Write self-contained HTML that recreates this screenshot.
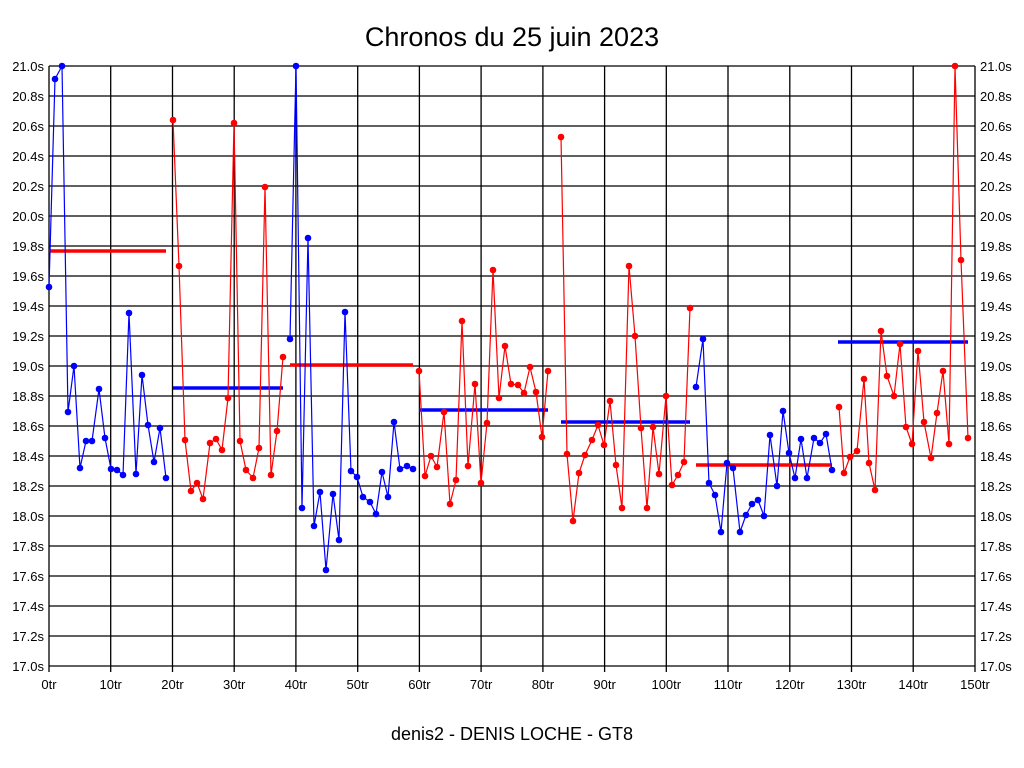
<!DOCTYPE html>
<html><head><meta charset="utf-8"><style>
body{margin:0;background:#fff}
svg{display:block;font-family:"Liberation Sans",sans-serif}
</style></head><body>
<svg width="1024" height="768" viewBox="0 0 1024 768" xmlns="http://www.w3.org/2000/svg">
<rect width="1024" height="768" fill="#fff"/>
<text x="512" y="46" font-size="27" text-anchor="middle">Chronos du 25 juin 2023</text>
<g id="grid" stroke="#000" stroke-width="1.3">
<line x1="49" y1="66" x2="975" y2="66"/><line x1="49" y1="96" x2="975" y2="96"/><line x1="49" y1="126" x2="975" y2="126"/><line x1="49" y1="156" x2="975" y2="156"/><line x1="49" y1="186" x2="975" y2="186"/><line x1="49" y1="216" x2="975" y2="216"/><line x1="49" y1="246" x2="975" y2="246"/><line x1="49" y1="276" x2="975" y2="276"/><line x1="49" y1="306" x2="975" y2="306"/><line x1="49" y1="336" x2="975" y2="336"/><line x1="49" y1="366" x2="975" y2="366"/><line x1="49" y1="396" x2="975" y2="396"/><line x1="49" y1="426" x2="975" y2="426"/><line x1="49" y1="456" x2="975" y2="456"/><line x1="49" y1="486" x2="975" y2="486"/><line x1="49" y1="516" x2="975" y2="516"/><line x1="49" y1="546" x2="975" y2="546"/><line x1="49" y1="576" x2="975" y2="576"/><line x1="49" y1="606" x2="975" y2="606"/><line x1="49" y1="636" x2="975" y2="636"/><line x1="49" y1="666" x2="975" y2="666"/>
<line x1="49" y1="66" x2="49" y2="672"/><line x1="110.7" y1="66" x2="110.7" y2="672"/><line x1="172.5" y1="66" x2="172.5" y2="672"/><line x1="234.2" y1="66" x2="234.2" y2="672"/><line x1="295.9" y1="66" x2="295.9" y2="672"/><line x1="357.7" y1="66" x2="357.7" y2="672"/><line x1="419.4" y1="66" x2="419.4" y2="672"/><line x1="481.1" y1="66" x2="481.1" y2="672"/><line x1="542.9" y1="66" x2="542.9" y2="672"/><line x1="604.6" y1="66" x2="604.6" y2="672"/><line x1="666.3" y1="66" x2="666.3" y2="672"/><line x1="728" y1="66" x2="728" y2="672"/><line x1="789.8" y1="66" x2="789.8" y2="672"/><line x1="851.5" y1="66" x2="851.5" y2="672"/><line x1="913.2" y1="66" x2="913.2" y2="672"/><line x1="975" y1="66" x2="975" y2="672"/>
</g>
<g font-size="13" text-anchor="end">
<text x="44" y="71">21.0s</text><text x="44" y="101">20.8s</text><text x="44" y="131">20.6s</text><text x="44" y="161">20.4s</text><text x="44" y="191">20.2s</text><text x="44" y="221">20.0s</text><text x="44" y="251">19.8s</text><text x="44" y="281">19.6s</text><text x="44" y="311">19.4s</text><text x="44" y="341">19.2s</text><text x="44" y="371">19.0s</text><text x="44" y="401">18.8s</text><text x="44" y="431">18.6s</text><text x="44" y="461">18.4s</text><text x="44" y="491">18.2s</text><text x="44" y="521">18.0s</text><text x="44" y="551">17.8s</text><text x="44" y="581">17.6s</text><text x="44" y="611">17.4s</text><text x="44" y="641">17.2s</text><text x="44" y="671">17.0s</text>
</g>
<g font-size="13">
<text x="980" y="71">21.0s</text><text x="980" y="101">20.8s</text><text x="980" y="131">20.6s</text><text x="980" y="161">20.4s</text><text x="980" y="191">20.2s</text><text x="980" y="221">20.0s</text><text x="980" y="251">19.8s</text><text x="980" y="281">19.6s</text><text x="980" y="311">19.4s</text><text x="980" y="341">19.2s</text><text x="980" y="371">19.0s</text><text x="980" y="401">18.8s</text><text x="980" y="431">18.6s</text><text x="980" y="461">18.4s</text><text x="980" y="491">18.2s</text><text x="980" y="521">18.0s</text><text x="980" y="551">17.8s</text><text x="980" y="581">17.6s</text><text x="980" y="611">17.4s</text><text x="980" y="641">17.2s</text><text x="980" y="671">17.0s</text>
</g>
<g font-size="13" text-anchor="middle">
<text x="49" y="689">0tr</text><text x="110.7" y="689">10tr</text><text x="172.5" y="689">20tr</text><text x="234.2" y="689">30tr</text><text x="295.9" y="689">40tr</text><text x="357.7" y="689">50tr</text><text x="419.4" y="689">60tr</text><text x="481.1" y="689">70tr</text><text x="542.9" y="689">80tr</text><text x="604.6" y="689">90tr</text><text x="666.3" y="689">100tr</text><text x="728" y="689">110tr</text><text x="789.8" y="689">120tr</text><text x="851.5" y="689">130tr</text><text x="913.2" y="689">140tr</text><text x="975" y="689">150tr</text>
</g>
<text x="512" y="740" font-size="18" text-anchor="middle">denis2 - DENIS LOCHE - GT8</text>

<g stroke-width="3.5">
<line x1="49" y1="251" x2="166" y2="251" stroke="#f00"/>
<line x1="173" y1="388" x2="283" y2="388" stroke="#00f"/>
<line x1="290" y1="365" x2="413" y2="365" stroke="#f00"/>
<line x1="419" y1="410" x2="548" y2="410" stroke="#00f"/>
<line x1="561" y1="422" x2="690" y2="422" stroke="#00f"/>
<line x1="696" y1="465" x2="832" y2="465" stroke="#f00"/>
<line x1="838" y1="342" x2="968" y2="342" stroke="#00f"/>
</g>

<g fill="none" stroke-width="1.2">
<polyline id="s1" stroke="#00f" points="49,287 55,79 62,66 68,412 74,366 80,468 86,441 92,441 99,389 105,438 111,469 117,470 123,475 129,313 136,474 142,375 148,425 154,462 160,428 166,478"/>
<polyline id="s2" stroke="#f00" points="173,120 179,266 185,440 191,491 197,483 203,499 210,443 216,439 222,450 228,398 234,123 240,441 246,470 253,478 259,448 265,187 271,475 277,431 283,357"/>
<polyline id="s3" stroke="#00f" points="290,339 296,66 302,508 308,238 314,526 320,492 326,570 333,494 339,540 345,312 351,471 357,477 363,497 370,502 376,514 382,472 388,497 394,422 400,469 407,466 413,469"/>
<polyline id="s4" stroke="#f00" points="419,371 425,476 431,456 437,467 444,412 450,504 456,480 462,321 468,466 475,384 481,483 487,423 493,270 499,398 505,346 511,384 518,385 524,393 530,367 536,392 542,437 548,371"/>
<polyline id="s5" stroke="#f00" points="561,137 567,454 573,521 579,473 585,455 592,440 598,425 604,445 610,401 616,465 622,508 629,266 635,336 641,428 647,508 653,427 659,474 666,396 672,485 678,475 684,462 690,308"/>
<polyline id="s6" stroke="#00f" points="696,387 703,339 709,483 715,495 721,532 727,463 733,468 740,532 746,515 752,504 758,500 764,516 770,435 777,486 783,411 789,453 795,478 801,439 807,478 814,438 820,443 826,434 832,470"/>
<polyline id="s7" stroke="#f00" points="839,407 844,473 850,457 857,451 864,379 869,463 875,490 881,331 887,376 894,396 900,344 906,427 912,444 918,351 924,422 931,458 937,413 943,371 949,444 955,66 961,260 968,438"/>
</g>
<g id="dots"></g>
<script>
const g=document.getElementById('dots');
document.querySelectorAll('polyline').forEach(p=>{
 const c=p.getAttribute('stroke');
 p.getAttribute('points').trim().split(/\s+/).forEach(s=>{
  const [x,y]=s.split(',');
  const e=document.createElementNS('http://www.w3.org/2000/svg','circle');
  e.setAttribute('cx',x);e.setAttribute('cy',y);e.setAttribute('r','3.3');e.setAttribute('fill',c);
  g.appendChild(e);
 });
});
</script>
</svg>
</body></html>
